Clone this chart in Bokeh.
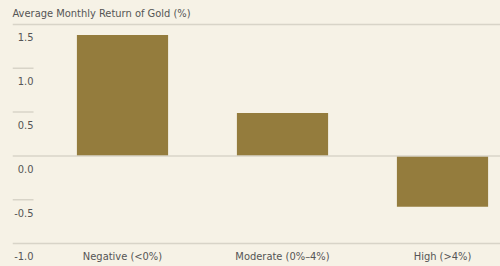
from bokeh.plotting import figure
from bokeh.models import Range1d, Label, Span
from bokeh.embed import file_html
from bokeh.resources import INLINE

categories = ["Negative (<0%)", "Moderate (0%\u20134%)", "High (>4%)"]
returns = [1.38, 0.49, -0.58]
y_ticks = [1.5, 1.0, 0.5, 0.0, -0.5, -1.0]
y_tick_labels = ["1.5", "1.0", "0.5", "0.0", "-0.5", "-1.0"]
full_lines = [1.5, 0.0, -1.0]

BG = "#f6f2e6"
BAR = "#947c3d"
GRID = "#d8d4c8"
TXT = "#555555"
FONT = "'Liberation Sans Narrow', 'DejaVu Sans Condensed', sans-serif"

x_start, x_end = -0.1875, 2.8625
p = figure(width=500, height=266, output_backend="svg", toolbar_location=None,
           x_range=Range1d(x_start, x_end), y_range=Range1d(-1.2626, 1.557),
           min_border_left=12, min_border_right=0, min_border_top=19, min_border_bottom=0,
           title="Average Monthly Return of Gold (%)")
p.background_fill_color = BG
p.border_fill_color = BG
p.outline_line_color = None
p.grid.visible = False
p.yaxis.visible = False
p.xaxis.visible = False

p.title.text_font = FONT
p.title.text_font_size = "11px"
p.title.text_font_style = "normal"
p.title.text_color = TXT
p.title.align = "left"
p.title.standoff = 0
p.title.vertical_align = "bottom"

xs = [i + 0.5 for i in range(len(categories))]
p.vbar(x=xs, top=returns, bottom=0, width=0.57, color=BAR, line_color=None)

short_len = 21 / 160.0
for v, lab in zip(y_ticks, y_tick_labels):
    if v in full_lines:
        p.add_layout(Span(location=v, dimension="width", line_color=GRID, line_width=1.5))
    else:
        p.segment(x0=x_start, x1=x_start + short_len, y0=v, y1=v, line_color=GRID, line_width=1.5)
    p.add_layout(Label(x=x_start + short_len, y=v, text=lab, text_align="right",
                       text_baseline="middle", y_offset=-13, text_font=FONT,
                       text_font_size="11px", text_color=TXT))

for x, c in zip(xs, categories):
    p.add_layout(Label(x=x, y=y_ticks[-1], text=c, text_align="center",
                       text_baseline="middle", y_offset=-13, text_font=FONT,
                       text_font_size="11px", text_color=TXT))

html = file_html(p, INLINE)
html = html.replace("<head>", "<head><style>html,body{background:%s;}</style>" % BG, 1)
open("out.html", "w").write(html)
